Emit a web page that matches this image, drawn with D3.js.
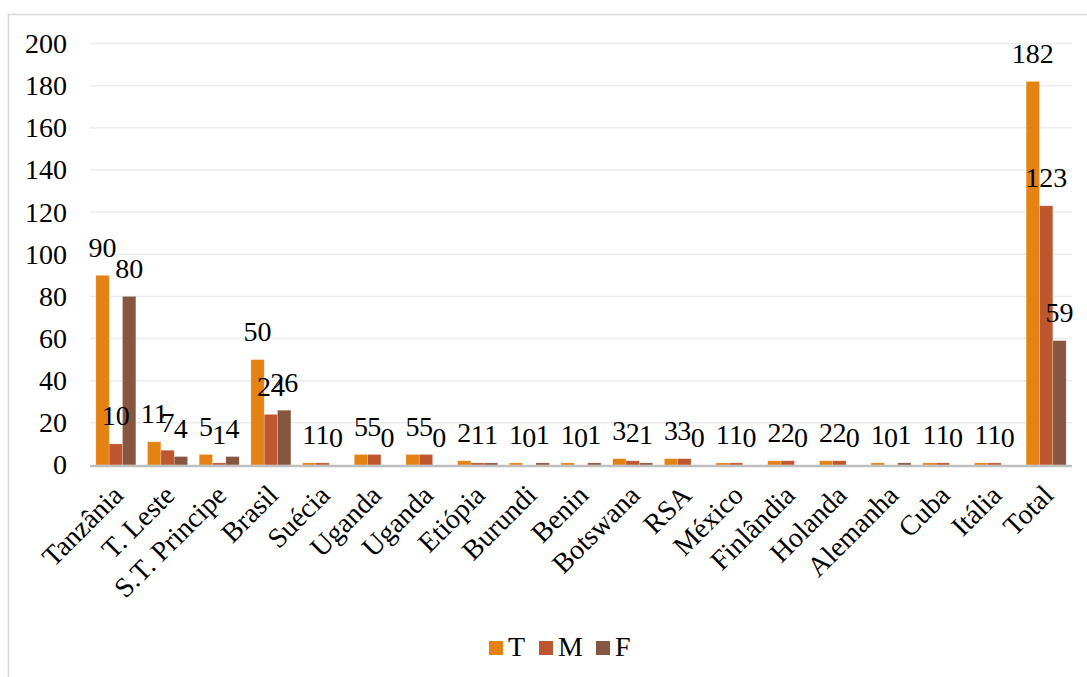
<!DOCTYPE html>
<html>
<head>
<meta charset="utf-8">
<script src="https://cdn.jsdelivr.net/npm/d3@7"></script>
<style>
  body { margin: 0; background: #fff; }
  text { font-family: "Liberation Serif", "Times New Roman", serif; fill: #000; }
</style>
</head>
<body>
<svg id="chart" width="1087" height="677"></svg>
<script>
// categories + series
const categories = ["Tanzânia", "T. Leste", "S.T. Principe", "Brasil", "Suécia", "Uganda", "Uganda",
  "Etiópia", "Burundi", "Benin", "Botswana", "RSA", "México", "Finlândia", "Holanda",
  "Alemanha", "Cuba", "Itália", "Total"];
const seriesNames = ["T", "M", "F"];
const valuesT = [90, 11, 5, 50, 1, 5, 5, 2, 1, 1, 3, 3, 1, 2, 2, 1, 1, 1, 182];
const valuesM = [10, 7, 1, 24, 1, 5, 5, 1, 0, 0, 2, 3, 1, 2, 2, 0, 1, 1, 123];
const valuesF = [80, 4, 4, 26, 0, 0, 0, 1, 1, 1, 1, 0, 0, 0, 0, 1, 0, 0, 59];
const yTicks = [0, 20, 40, 60, 80, 100, 120, 140, 160, 180, 200];
const colors = ["#E48314", "#BE5630", "#875640"];

const allSeries = [valuesT, valuesM, valuesF];
const rows = categories.map((c, i) => ({
  cat: c, idx: i,
  vals: seriesNames.map((s, k) => ({ key: s, value: allSeries[k][i], k: k }))
}));

const fontSize = 28;
const svg = d3.select("#chart");
const margin = { top: 43.5, left: 90, right: 15, bottom: 212 };
const width = 1087 - margin.left - margin.right;
const height = 465 - margin.top;

// chart border
svg.append("rect")
  .attr("x", 8.5).attr("y", 14.5)
  .attr("width", 1100).attr("height", 700)
  .attr("fill", "none").attr("stroke", "#d9d9d9").attr("stroke-width", 1.5);

const g = svg.append("g").attr("transform", `translate(${margin.left},${margin.top})`);

const x0 = d3.scaleBand().domain(d3.range(categories.length)).range([0, width]).paddingInner(0.226).paddingOuter(0.113);
const x1 = d3.scaleBand().domain(seriesNames).range([0, x0.bandwidth()]);
const y = d3.scaleLinear().domain([0, 200]).range([height, 0]);

// gridlines
g.append("g")
  .selectAll("line")
  .data(yTicks.filter(d => d > 0))
  .join("line")
  .attr("x1", 0).attr("x2", width)
  .attr("y1", d => y(d)).attr("y2", d => y(d))
  .attr("stroke", "#ececec").attr("stroke-width", 1.5);

// y labels
const yAxis = g.append("g")
  .call(d3.axisLeft(y).tickValues(yTicks).tickSize(0).tickPadding(23));
yAxis.select(".domain").remove();
yAxis.selectAll("text").attr("font-size", fontSize).style("font-family", '"Liberation Serif", serif');

// bars
const groups = g.append("g")
  .selectAll("g")
  .data(rows)
  .join("g")
  .attr("transform", d => `translate(${x0(d.idx)},0)`);

groups.selectAll("rect")
  .data(d => d.vals)
  .join("rect")
  .attr("x", d => x1(d.key))
  .attr("y", d => y(d.value))
  .attr("width", x1.bandwidth())
  .attr("height", d => height - y(d.value))
  .attr("fill", d => colors[d.k])
  .attr("stroke", "rgba(255,255,255,0.35)")
  .attr("stroke-width", 0.6);

// data labels
groups.selectAll("text")
  .data(d => d.vals)
  .join("text")
  .attr("x", d => x1(d.key) + x1.bandwidth() / 2)
  .attr("y", d => y(d.value) - 18.5)
  .attr("text-anchor", "middle")
  .attr("font-size", fontSize)
  .text(d => d.value);

// x axis line
g.append("line")
  .attr("x1", 0).attr("x2", width)
  .attr("y1", height + 1).attr("y2", height + 1)
  .attr("stroke", "#bfbfbf").attr("stroke-width", 2.5);

// x labels
g.append("g")
  .selectAll("text")
  .data(rows)
  .join("text")
  .attr("transform", d => `translate(${x0(d.idx) + x0.bandwidth() / 2 - 5},${height + 18}) rotate(-45)`)
  .attr("text-anchor", "end")
  .attr("dy", "0.7em")
  .attr("font-size", fontSize)
  .text(d => d.cat);

// legend
const legend = svg.append("g").attr("transform", "translate(489,641)");
const legendX = [0, 50, 107];
seriesNames.forEach((s, k) => {
  const item = legend.append("g").attr("transform", `translate(${legendX[k]},0)`);
  item.append("rect").attr("width", 14).attr("height", 14).attr("fill", colors[k]);
  item.append("text").attr("x", 19).attr("y", 15).attr("font-size", fontSize).text(s);
});
</script>
</body>
</html>
